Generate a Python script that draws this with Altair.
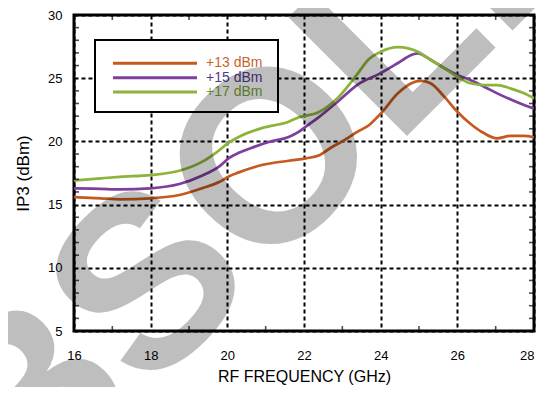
import altair as alt
import pandas as pd

# ---- data ----
series_names = ["+13 dBm", "+15 dBm", "+17 dBm"]

freq_13 = [16.0, 16.7, 17.2, 18.0, 18.75, 19.35, 19.8, 20.05, 20.3, 20.9, 21.6, 22.05,
           22.4, 22.7, 23.0, 23.4, 23.7, 24.0, 24.45, 24.8, 25.05, 25.3, 25.67, 26.0,
           26.34, 26.7, 27.04, 27.38, 27.74, 28.0]
ip3_13 = [15.6, 15.5, 15.42, 15.5, 15.76, 16.3, 16.8, 17.25, 17.55, 18.13, 18.47, 18.66,
          18.9, 19.5, 20.0, 20.77, 21.3, 22.2, 23.8, 24.6, 24.78, 24.6, 23.5, 22.35,
          21.4, 20.64, 20.24, 20.43, 20.43, 20.32]

freq_15 = [16.0, 16.7, 17.2, 18.0, 18.75, 19.35, 19.8, 20.05, 20.3, 20.64, 21.08, 21.6,
           21.86, 22.04, 22.38, 22.9, 23.4, 24.0, 24.45, 24.8, 24.97, 25.31, 25.67, 26.0,
           26.34, 26.7, 27.04, 27.38, 27.74, 28.0]
ip3_15 = [16.29, 16.24, 16.2, 16.29, 16.63, 17.3, 18.05, 18.7, 19.1, 19.5, 19.95, 20.35,
          20.75, 21.15, 21.9, 23.2, 24.5, 25.4, 26.2, 26.84, 26.97, 26.44, 25.78, 25.25,
          24.86, 24.33, 23.8, 23.33, 22.88, 22.6]

freq_17 = [16.0, 16.7, 17.2, 18.0, 18.75, 19.35, 19.7, 20.04, 20.4, 20.9, 21.6, 21.86,
           22.38, 22.9, 23.41, 23.67, 24.01, 24.45, 24.72, 24.97, 25.31, 25.67, 26.0,
           26.34, 26.7, 27.04, 27.38, 27.74, 28.0]
ip3_17 = [16.9, 17.08, 17.2, 17.34, 17.68, 18.4, 19.1, 19.9, 20.5, 21.05, 21.56, 21.9,
          22.3, 23.5, 25.4, 26.44, 27.1, 27.45, 27.36, 27.1, 26.44, 25.78, 25.12,
          24.6, 24.46, 24.46, 24.2, 23.8, 23.4]

x_major = [16, 18, 20, 22, 24, 26, 28]
x_minor = [17, 19, 21, 23, 25, 27]
y_major = [5, 10, 15, 20, 25, 30]
y_minor = [6, 7, 8, 9, 11, 12, 13, 14, 16, 17, 18, 19, 21, 22, 23, 24, 26, 27, 28, 29]

watermark = ["OBSOLETE"]

# ---- styles ----
line_colors = ["#c55a1e", "#7e3f9c", "#8cb43a"]
text_colors = ["#c8642c", "#4f3c8f", "#7ea23a"]
FONT = "Liberation Sans"
W, H = 460, 316

frames = []
for name, fx, fy in zip(series_names, [freq_13, freq_15, freq_17], [ip3_13, ip3_15, ip3_17]):
    frames.append(pd.DataFrame({"freq": fx, "ip3": fy, "series": name}))
df = pd.concat(frames, ignore_index=True)

xscale = alt.Scale(domain=[16, 28], nice=False, zero=False)
yscale = alt.Scale(domain=[5, 30], nice=False, zero=False)
x_axis = alt.Axis(
    values=x_major, title="RF FREQUENCY (GHz)", labelPadding=18, titlePadding=6,
    labelFlush=False,
    labelAlign={"condition": {"test": "datum.value == 28", "value": "right"}, "value": "center"},
)
y_axis = alt.Axis(values=y_major, title="IP3 (dBm)", labelPadding=12, titlePadding=15,
                  titleFontSize=17, labelFlush=False)

lines = alt.Chart(df).mark_line(interpolate="monotone", strokeWidth=2.75, clip=True).encode(
    x=alt.X("freq:Q", scale=xscale, axis=x_axis),
    y=alt.Y("ip3:Q", scale=yscale, axis=y_axis),
    color=alt.Color("series:N", scale=alt.Scale(domain=series_names, range=line_colors),
                    legend=None),
)

# inner minor ticks on the four frame sides (half of each tick is clipped away)
tick_style = dict(color="black", thickness=1.6, size=10, clip=True)
ticks_bottom = alt.Chart(pd.DataFrame({"freq": x_minor, "ip3": y_major[0]})).mark_tick(
    orient="vertical", **tick_style).encode(
    x=alt.X("freq:Q", scale=xscale, axis=x_axis), y=alt.Y("ip3:Q", scale=yscale, axis=y_axis))
ticks_top = alt.Chart(pd.DataFrame({"freq": x_minor, "ip3": y_major[-1]})).mark_tick(
    orient="vertical", **tick_style).encode(
    x=alt.X("freq:Q", scale=xscale, axis=x_axis), y=alt.Y("ip3:Q", scale=yscale, axis=y_axis))
ticks_left = alt.Chart(pd.DataFrame({"ip3": y_minor, "freq": x_major[0]})).mark_tick(
    orient="horizontal", **tick_style).encode(
    x=alt.X("freq:Q", scale=xscale, axis=x_axis), y=alt.Y("ip3:Q", scale=yscale, axis=y_axis))
ticks_right = alt.Chart(pd.DataFrame({"ip3": y_minor, "freq": x_major[-1]})).mark_tick(
    orient="horizontal", **tick_style).encode(
    x=alt.X("freq:Q", scale=xscale, axis=x_axis), y=alt.Y("ip3:Q", scale=yscale, axis=y_axis))

# ---- manual legend ----
leg_df = pd.DataFrame({"series": series_names})
legend_box = alt.Chart(leg_df.head(1)).mark_rect(fill="white", stroke="black", strokeWidth=2).encode(
    x=alt.value(21), x2=alt.value(204), y=alt.value(25), y2=alt.value(97))
legend_layers = [legend_box]
for i, name in enumerate(series_names):
    yy = 48.3 + 14.35 * i
    sub = leg_df[leg_df.series == name]
    legend_layers.append(
        alt.Chart(sub).mark_rule(strokeWidth=3, color=line_colors[i]).encode(
            x=alt.value(39), x2=alt.value(123), y=alt.value(yy)))
    legend_layers.append(
        alt.Chart(sub).mark_text(align="left", baseline="middle", fontSize=14, font=FONT,
                                 color=text_colors[i]).encode(
            x=alt.value(132), y=alt.value(yy), text="series:N"))

wm = alt.Chart(pd.DataFrame({"t": watermark})).mark_text(
    font=FONT, fontWeight="bold", fontSize=244, angle=315, align="center",
    baseline="alphabetic", color="black", opacity=0.25).encode(
    x=alt.value(288), y=alt.value(166), text="t:N")

chart = alt.layer(
    lines, ticks_bottom, ticks_top, ticks_left, ticks_right, *legend_layers, wm
).properties(
    width=W, height=H,
    autosize=alt.AutoSizeParams(type="none"),
    padding={"left": 66, "top": 7, "right": 2, "bottom": 56},
).configure_view(
    stroke="black", strokeWidth=3
).configure_axis(
    labelFont=FONT, titleFont=FONT, labelFontSize=13, titleFontSize=16,
    labelColor="black", titleColor="black", titleFontWeight="normal",
    domain=False, ticks=False, grid=True, gridColor="black", gridDash=[4, 3],
    gridWidth=2, gridOpacity=1,
)

chart.save("out.html", embed_options={"renderer": "svg", "actions": False})
